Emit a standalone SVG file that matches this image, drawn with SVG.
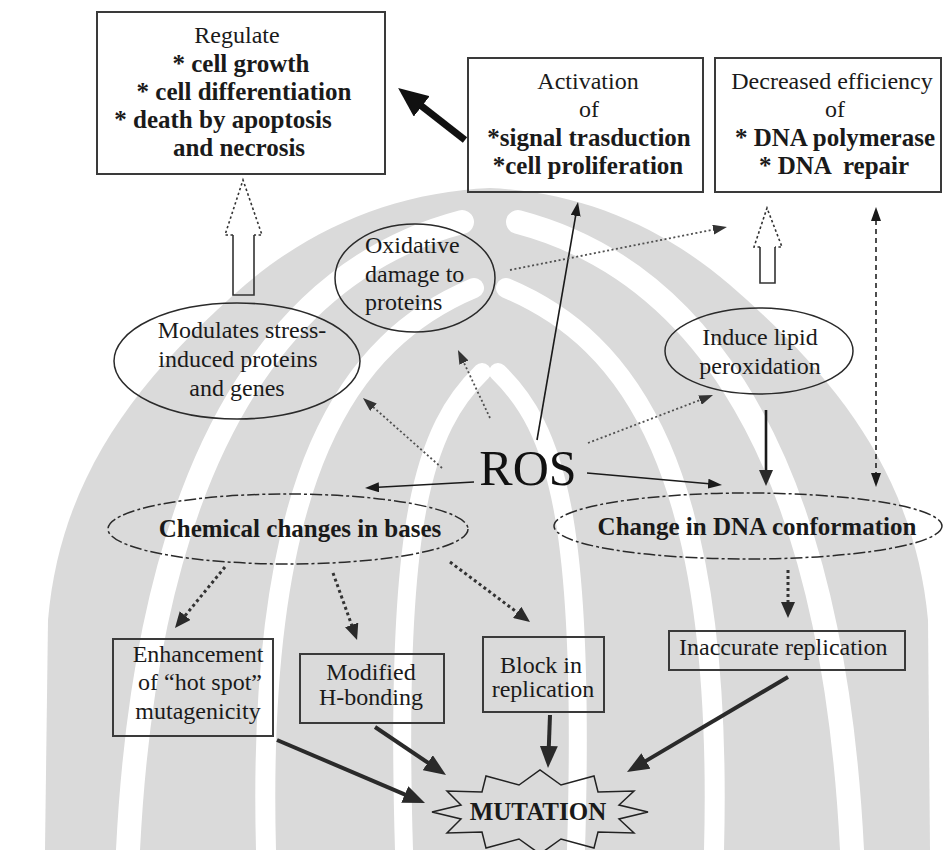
<svg xmlns="http://www.w3.org/2000/svg" width="944" height="850" viewBox="0 0 944 850">
  <style>
    .t { font-family: "Liberation Serif", "Times New Roman", serif; font-size: 24px; fill: #1a1a1a; }
    .b { font-family: "Liberation Serif", "Times New Roman", serif; font-size: 25px; font-weight: bold; fill: #1a1a1a; }
    .c { text-anchor: middle; }
    .box { fill: none; stroke: #3a3a3a; stroke-width: 2; }
    .oval { fill: none; stroke: #2a2a2a; stroke-width: 1.5; }
    .doval { fill: none; stroke: #2a2a2a; stroke-width: 1.5; stroke-dasharray: 12 3 3 3; }
    .thin { fill: none; stroke: #1a1a1a; stroke-width: 1.6; }
    .dot { fill: none; stroke: #505050; stroke-width: 1.8; stroke-dasharray: 2 2.5; }
    .dotb { fill: none; stroke: #333; stroke-width: 3; stroke-dasharray: 3 3; }
    .heavy { fill: none; stroke: #2a2a2a; stroke-width: 4; }
    .hollow { fill: none; stroke: #333; stroke-width: 1.6; }
    .hollowd { fill: none; stroke: #333; stroke-width: 1.6; stroke-dasharray: 2.5 2.5; }
    .wm { fill: #dadada; }
    .wmcut { fill: none; stroke: #ffffff; stroke-linecap: round; }
  </style>
  <defs>
    <marker id="ah" viewBox="0 0 14 10" refX="1" refY="5" markerWidth="14" markerHeight="10" markerUnits="userSpaceOnUse" orient="auto-start-reverse">
      <path d="M0,0 L14,5 L0,10 z" fill="#1a1a1a"/>
    </marker>
    <marker id="ahg" viewBox="0 0 14 10" refX="1" refY="5" markerWidth="14" markerHeight="10" markerUnits="userSpaceOnUse" orient="auto">
      <path d="M0,0 L14,5 L0,10 z" fill="#333"/>
    </marker>
    <marker id="ahc" viewBox="0 0 16 14" refX="1" refY="7" markerWidth="16" markerHeight="14" markerUnits="userSpaceOnUse" orient="auto">
      <path d="M0,0 L16,7 L0,14 z" fill="#2a2a2a"/>
    </marker>
    <marker id="ahm" viewBox="0 0 22 18" refX="1" refY="9" markerWidth="22" markerHeight="18" markerUnits="userSpaceOnUse" orient="auto">
      <path d="M0,0 L22,9 L0,18 z" fill="#2a2a2a"/>
    </marker>
    <marker id="ahb" viewBox="0 0 30 26" refX="2" refY="13" markerWidth="30" markerHeight="26" markerUnits="userSpaceOnUse" orient="auto">
      <path d="M0,0 L30,13 L0,26 z" fill="#111"/>
    </marker>
  </defs>

  <rect width="944" height="850" fill="#ffffff"/>

  <!-- faint emblem in the background -->
  <g id="watermark">
    <path class="wm" d="M490 188 C580 192 660 225 730 285 C840 380 915 480 928 620 L930 850 L45 850 L48 620 C60 480 135 380 245 285 C315 225 400 192 490 188 Z"/>
    <g class="wmcut">
      <path stroke-width="24" d="M462 222 C310 262 150 410 128 850"/>
      <path stroke-width="20" d="M474 288 C350 340 256 470 266 850"/>
      <path stroke-width="18" d="M482 372 C424 428 394 520 404 850"/>
      <path stroke-width="24" d="M518 222 C670 262 830 410 852 850"/>
      <path stroke-width="20" d="M506 288 C630 340 724 470 714 850"/>
      <path stroke-width="18" d="M498 372 C556 428 586 520 576 850"/>
    </g>
  </g>

  <!-- connectors -->
  <g id="connectors">
    <line x1="465" y1="140" x2="420.2" y2="105.1" stroke="#111" stroke-width="7" marker-end="url(#ahb)"/>
    <line class="thin" x1="537" y1="440" x2="575.8" y2="214.8" marker-end="url(#ah)"/>
    <line class="dot" x1="510" y1="270" x2="714.2" y2="229.5" marker-end="url(#ahg)"/>
    <line x1="876" y1="220" x2="876" y2="474" fill="none" stroke="#222" stroke-width="1.6" stroke-dasharray="5 4" marker-start="url(#ah)" marker-end="url(#ah)"/>
    <line x1="766" y1="410" x2="766" y2="471" stroke="#1a1a1a" stroke-width="2.6" marker-end="url(#ahc)"/>

    <line class="dot" x1="442" y1="468" x2="372.7" y2="406.6" marker-end="url(#ahg)"/>
    <line class="dot" x1="490" y1="418" x2="463.5" y2="361.8" marker-end="url(#ahg)"/>
    <line class="dot" x1="588" y1="443" x2="700.9" y2="399.7" marker-end="url(#ahg)"/>
    <line class="thin" x1="474" y1="482" x2="378" y2="487.3" marker-end="url(#ah)"/>
    <line class="thin" x1="587" y1="473" x2="709.1" y2="483.8" marker-end="url(#ah)"/>

    <line class="dotb" x1="225" y1="567" x2="184.5" y2="616.4" marker-end="url(#ahc)"/>
    <line class="dotb" x1="333" y1="573" x2="352" y2="625.9" marker-end="url(#ahc)"/>
    <line class="dotb" x1="450" y1="562" x2="518" y2="613" marker-end="url(#ahc)"/>
    <line class="dotb" x1="788" y1="570" x2="788" y2="603" marker-end="url(#ahc)"/>

    <line class="heavy" x1="277" y1="740" x2="405.7" y2="794.8" marker-end="url(#ahm)"/>
    <line class="heavy" x1="375" y1="727" x2="428.6" y2="763.2" marker-end="url(#ahm)"/>
    <line class="heavy" x1="550" y1="715" x2="548.8" y2="747" marker-end="url(#ahm)"/>
    <line class="heavy" x1="788" y1="677" x2="645.1" y2="761.4" stroke-width="3" marker-end="url(#ahm)"/>

    <!-- hollow block arrows -->
    <path class="hollow" d="M233 235 L233 295 L254 295 L254 235"/>
    <path class="hollowd" d="M233 235 L225 235 L243 180 L262 235 L254 235"/>
    <path class="hollow" d="M760 247 L760 283 L775 283 L775 247"/>
    <path class="hollowd" d="M760 247 L754 247 L767 208 L782 247 L775 247"/>
  </g>

  <g id="regulate">
    <rect class="box" x="97" y="12" width="288" height="162"/>
    <text class="t c" x="237" y="43">Regulate</text>
    <text class="b c" x="241" y="72">* cell growth</text>
    <text class="b c" x="244" y="100">* cell differentiation</text>
    <text class="b c" x="223" y="128">* death by apoptosis</text>
    <text class="b c" x="239" y="156">and necrosis</text>
  </g>

  <g id="activation">
    <rect class="box" x="468" y="58" width="235" height="134"/>
    <text class="t c" x="588" y="89">Activation</text>
    <text class="t c" x="589" y="117">of</text>
    <text class="b c" x="589" y="146">*signal trasduction</text>
    <text class="b c" x="588" y="174">*cell proliferation</text>
  </g>

  <g id="decreased">
    <rect class="box" x="715" y="58" width="226" height="134"/>
    <text class="t c" x="832" y="89">Decreased efficiency</text>
    <text class="t c" x="835" y="117">of</text>
    <text class="b c" x="835" y="146">* DNA polymerase</text>
    <text class="b c" x="834" y="174" xml:space="preserve">* DNA  repair</text>
  </g>

  <g id="oxidative">
    <ellipse class="oval" cx="415" cy="278" rx="80" ry="54"/>
    <text class="t" x="365" y="253">Oxidative</text>
    <text class="t" x="365" y="282">damage to</text>
    <text class="t" x="365" y="310">proteins</text>
  </g>

  <g id="modulates">
    <ellipse class="oval" cx="237" cy="361" rx="123" ry="58"/>
    <text class="t c" x="242" y="338">Modulates stress-</text>
    <text class="t c" x="238" y="367">induced proteins</text>
    <text class="t c" x="237" y="396">and genes</text>
  </g>

  <g id="lipid">
    <ellipse class="oval" cx="759" cy="351" rx="94" ry="43"/>
    <text class="t c" x="760" y="345">Induce lipid</text>
    <text class="t c" x="760" y="374">peroxidation</text>
  </g>

  <g id="ros">
    <text x="528" y="485" font-family="Liberation Serif, serif" font-size="50" fill="#111" text-anchor="middle">ROS</text>
  </g>

  <g id="chemical">
    <ellipse class="doval" cx="288" cy="529" rx="180" ry="35"/>
    <text class="b c" x="300" y="537">Chemical changes in bases</text>
  </g>

  <g id="conformation">
    <ellipse class="doval" cx="748" cy="526" rx="194" ry="33"/>
    <text class="b c" x="757" y="535">Change in DNA conformation</text>
  </g>

  <g id="hotspot">
    <rect class="box" x="113" y="639" width="160" height="97"/>
    <text class="t c" x="198" y="662">Enhancement</text>
    <text class="t c" x="200" y="690">of “hot spot”</text>
    <text class="t c" x="198" y="719">mutagenicity</text>
  </g>

  <g id="hbonding">
    <rect class="box" x="300" y="654" width="144" height="69"/>
    <text class="t c" x="371" y="680">Modified</text>
    <text class="t c" x="371" y="705">H-bonding</text>
  </g>

  <g id="block">
    <rect class="box" x="483" y="637" width="121" height="75"/>
    <text class="t c" x="541" y="673">Block in</text>
    <text class="t c" x="543" y="697">replication</text>
  </g>

  <g id="inaccurate">
    <rect class="box" x="669" y="631" width="236" height="39"/>
    <text class="t" x="679" y="655">Inaccurate replication</text>
  </g>

  <g id="mutation">
    <polygon fill="none" stroke="#222" stroke-width="1.5" points="648,812 619,819 634,833 598,832 594,848 561,839 540,854 519,839 486,848 482,832 447,833 461,819 432,812 461,805 447,791 482,792 486,776 519,785 540,770 561,785 594,776 598,792 634,791 619,805"/>
    <text class="b c" x="538" y="820">MUTATION</text>
  </g>
</svg>
